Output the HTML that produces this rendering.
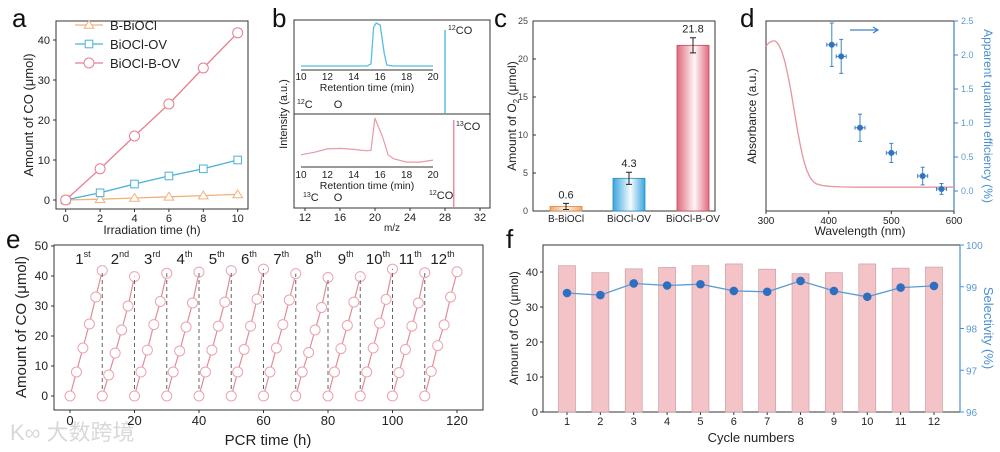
<!DOCTYPE html>
<html><head><meta charset="utf-8"><style>
html,body{margin:0;padding:0;background:#fff;}
svg{display:block;font-family:"Liberation Sans","Noto Sans CJK SC",sans-serif;}
</style></head><body>
<svg id="fig" width="1000" height="452" viewBox="0 0 1000 452">
<defs>
<linearGradient id="gO" x1="0" x2="1"><stop offset="0" stop-color="#eea868"/><stop offset="0.5" stop-color="#fff4e8"/><stop offset="1" stop-color="#eea868"/></linearGradient>
<linearGradient id="gB" x1="0" x2="1"><stop offset="0" stop-color="#3aa6dd"/><stop offset="0.55" stop-color="#f4fbff"/><stop offset="1" stop-color="#3aa6dd"/></linearGradient>
<linearGradient id="gR" x1="0" x2="1"><stop offset="0" stop-color="#e06a7c"/><stop offset="0.55" stop-color="#fff6f7"/><stop offset="1" stop-color="#e06a7c"/></linearGradient>
</defs>
<text x="10" y="440" font-size="22" fill="#d8d8d8">K∞ 大数跨境</text>
</svg>
<script>
const NS='http://www.w3.org/2000/svg';
const svg=document.getElementById('fig');
// ---- data ----
const aTimes=[0,2,4,6,8,10];
const aBBiOCl=[0,0.2,0.5,0.8,1.1,1.4];
const aBiOClOV=[0,1.8,4,6,7.8,10];
const aBiOClBOV=[0,7.8,16,24,33,41.8];
const bTopT=[10,15,15.3,15.5,15.7,16,16.3,16.5,17,20];
const bTopI=[0,0,0.05,0.9,1,0.95,0.3,0.02,0,0];
const bBotT=[10,11,12,13,14,15,15.3,15.6,16.2,16.6,17,18,19,20];
const bBotI=[0.25,0.3,0.37,0.38,0.36,0.33,0.34,1.0,0.6,0.25,0.17,0.1,0.1,0.14];
const cCats=['B-BiOCl','BiOCl-OV','BiOCl-B-OV'];
const cVals=[0.6,4.3,21.8];
const cErrs=[0.4,0.8,1.0];
const dWl=[300,305,310,315,320,325,330,335,340,345,350,355,360,365,370,375,380,390,400,420,450,500,600];
const dAbs=[0.97,0.99,1.0,1.0,0.98,0.94,0.88,0.8,0.7,0.59,0.48,0.38,0.3,0.24,0.2,0.175,0.16,0.15,0.145,0.142,0.14,0.14,0.14];
const dAqeWl=[405,420,450,500,550,580];
const dAqe=[2.15,1.98,0.93,0.56,0.22,0.03];
const dAqeErr=[0.32,0.25,0.2,0.14,0.13,0.08];
const eCycles=[[0,8,16,24,33,41.8],[0,7,14.3,22,30,39.8],[0,8,15.3,23.8,31.5,40.9],[0,8,15,23,31,41.3],[0,8,15.3,23.3,31.3,41.8],[0,8,15.5,23.3,32.3,42.3],[0,8,16,23.8,32,40.8],[0,8,14.5,22,29.5,39.5],[0,8,15.8,23.5,31.3,39.8],[0,8,16,24.3,32.2,42.3],[0,7.8,15.5,23.3,31,41.1],[0,8.2,16.8,23.7,33,41.4]];
const eLabels=['1','2','3','4','5','6','7','8','9','10','11','12'];
const eSup=['st','nd','rd','th','th','th','th','th','th','th','th','th'];
const fCycles=[1,2,3,4,5,6,7,8,9,10,11,12];
const fCO=[41.8,39.8,40.9,41.3,41.8,42.3,40.8,39.5,39.8,42.3,41.1,41.4];
const fSel=[98.85,98.8,99.08,99.03,99.06,98.9,98.88,99.14,98.9,98.76,98.98,99.02];

function el(tag,a,name){const e=document.createElementNS(NS,tag);for(const k in a)e.setAttribute(k,a[k]);


svg.appendChild(e);return e;}
function tx(x,y,s,name,o){o=o||{};const e=el('text',Object.assign({x:x,y:y,'font-size':o.fs||11,fill:o.fill||'#222','text-anchor':o.anchor||'middle'},o.tr?{transform:o.tr}:{}),name);e.innerHTML=s;return e;}
function lin(d0,d1,p0,p1){return v=>p0+(v-d0)*(p1-p0)/(d1-d0);}
function poly(xs,ys,X,Y,name,st){const p=xs.map((v,i)=>X(v).toFixed(1)+','+Y(ys[i]).toFixed(1)).join(' ');return el('polyline',Object.assign({points:p,fill:'none'},st),name);}
function box(x0,y0,x1,y1,name){el('rect',{x:x0,y:y0,width:x1-x0,height:y1-y0,fill:'none',stroke:'#333','stroke-width':1},name);}
function letter(x,y,s){tx(x,y,s,'panel-label-'+s,{fs:26,anchor:'start',fill:'#111'});}

// ---- panel a ----
{const X=lin(0,10,65.7,237.7),Y=lin(0,40,200,40);
box(56,21,248,209,'panel-a-frame');letter(12,27,'a');
for(let v=0;v<=10;v+=2){el('line',{x1:X(v),x2:X(v),y1:209,y2:212,stroke:'#333'},'a-x-tick');tx(X(v),222,v,'a-x-tick-label');}
for(let v=0;v<=40;v+=10){el('line',{x1:53,x2:56,y1:Y(v),y2:Y(v),stroke:'#333'},'a-y-tick');tx(50,Y(v)+4,v,'a-y-tick-label',{anchor:'end'});}
tx(152,234,'Irradiation time (h)','a-x-axis-title',{fs:12});
tx(33,115,'Amount of CO (μmol)','a-y-axis-title',{fs:13,tr:'rotate(-90 33 115)'});
const ser=[[aBBiOCl,'#f0b27a','tri','B-BiOCl'],[aBiOClOV,'#4ab0d9','sq','BiOCl-OV'],[aBiOClBOV,'#e57f8f','circ','BiOCl-B-OV']];
ser.forEach((s,k)=>{poly(aTimes,s[0],X,Y,'a-line-'+s[3],{stroke:s[1],'stroke-width':1.3});
 const mk=(cx,cy,nm)=>{if(s[2]=='circ')el('circle',{cx:cx,cy:cy,r:5,fill:'#fff',stroke:s[1],'stroke-width':1},nm);
 else if(s[2]=='sq')el('rect',{x:cx-3.8,y:cy-3.8,width:7.6,height:7.6,fill:'#fff',stroke:s[1],'stroke-width':1},nm);
 else el('polygon',{points:`${cx},${cy-4.5} ${cx-4.8},${cy+3.3} ${cx+4.8},${cy+3.3}`,fill:'#fff',stroke:s[1],'stroke-width':1},nm);};
 s[0].forEach((v,i)=>mk(X(aTimes[i]),Y(v),'a-point-'+s[3]));
 const ly=25+k*19;el('line',{x1:75,x2:103,y1:ly,y2:ly,stroke:s[1],'stroke-width':1.3},'a-legend-line');mk(89,ly,'a-legend-marker');
 tx(110,ly+5,s[3],'a-legend-entry',{fs:13,anchor:'start'});});}

// ---- panel b ----
{const X=lin(12,32,305,480);
box(294,20,490,208,'panel-b-frame');el('line',{x1:294,x2:490,y1:114,y2:114,stroke:'#333'},'b-divider');letter(272,27,'b');
for(let v=12;v<=32;v+=4){el('line',{x1:X(v),x2:X(v),y1:208,y2:211,stroke:'#333'},'b-x-tick');tx(X(v),221,v,'b-x-tick-label');}
tx(392,231,'m/z','b-x-axis-title',{fs:10});
tx(287,114,'Intensity (a.u.)','b-y-axis-title',{fs:11,tr:'rotate(-90 287 114)'});
const Xi=lin(10,20,301,433);
poly(bTopT,bTopI,Xi,lin(0,1,66,23),'b-top-chromatogram',{stroke:'#5bbce0','stroke-width':1.3});
el('line',{x1:301,x2:433,y1:70,y2:70,stroke:'#333'},'b-top-inset-axis');
for(let v=10;v<=20;v+=2){tx(Xi(v),80,v,'b-top-inset-tick-label',{fs:10});}
tx(367,91,'Retention time (min)','b-top-inset-title',{fs:10.5});
poly(bBotT,bBotI,Xi,lin(0,1,167,118),'b-bottom-chromatogram',{stroke:'#e89aa5','stroke-width':1.2});
el('line',{x1:301,x2:433,y1:167,y2:167,stroke:'#333'},'b-bottom-inset-axis');
for(let v=10;v<=20;v+=2){tx(Xi(v),178,v,'b-bottom-inset-tick-label',{fs:10});}
tx(367,189,'Retention time (min)','b-bottom-inset-title',{fs:10.5});
el('line',{x1:X(28),x2:X(28),y1:30,y2:114,stroke:'#4ab0d9','stroke-width':1.3},'b-12co-peak');
el('line',{x1:X(29),x2:X(29),y1:120,y2:208,stroke:'#e57f8f','stroke-width':1.3},'b-13co-peak');
tx(448,34,'<tspan font-size="7" dy="-4">12</tspan><tspan dy="4">CO</tspan>','b-12co-label',{fs:11,anchor:'start'});
tx(456,130,'<tspan font-size="7" dy="-4">13</tspan><tspan dy="4">CO</tspan>','b-13co-label',{fs:11,anchor:'start'});
tx(429,199,'<tspan font-size="7" dy="-4">12</tspan><tspan dy="4">CO</tspan>','b-12co-bottom-label',{fs:11,anchor:'start'});
tx(297,108,'<tspan font-size="7" dy="-4">12</tspan><tspan dy="4">C</tspan>','b-12c-label',{fs:11,anchor:'start'});
tx(338,108,'O','b-o-label-top',{fs:11});
tx(303,201,'<tspan font-size="7" dy="-4">13</tspan><tspan dy="4">C</tspan>','b-13c-label',{fs:11,anchor:'start'});
tx(338,201,'O','b-o-label-bottom',{fs:11});}

// ---- panel c ----
{const Y=lin(0,25,211,21);const cx=[566,629,693];const grads=['url(#gO)','url(#gB)','url(#gR)'];const bst=['#d98a4a','#2a8cc0','#c04a5c'];
box(533,21,715,211,'panel-c-frame');letter(494,27,'c');
for(let v=0;v<=25;v+=5){el('line',{x1:533,x2:536,y1:Y(v),y2:Y(v),stroke:'#333'},'c-y-tick');tx(528,Y(v)+3,v,'c-y-tick-label',{fs:9,anchor:'end',fill:'#444'});}
tx(516,116,'Amount of O<tspan font-size="8" dy="3">2</tspan><tspan dy="-3"> (μmol)</tspan>','c-y-axis-title',{fs:12,tr:'rotate(-90 516 116)'});
cVals.forEach((v,i)=>{el('rect',{x:cx[i]-16,y:Y(v),width:32,height:211-Y(v),fill:grads[i],stroke:bst[i],'stroke-width':0.8},'c-bar-'+cCats[i]);
 const t=Y(v+cErrs[i]),b=Y(v-cErrs[i]);el('path',{d:`M${cx[i]},${t}V${b}M${cx[i]-3},${t}H${cx[i]+3}M${cx[i]-3},${b}H${cx[i]+3}`,stroke:'#222',fill:'none'},'c-error-bar');
 tx(cx[i],t-5,v,'c-value-label',{fs:11});tx(cx[i],222,cCats[i],'c-x-tick-label',{fs:10});});}

// ---- panel d ----
{const X=lin(300,600,766,954),Ya=lin(0,1,211,41),Yq=lin(0,2.5,191,21);const blue='#3d85c6';
box(766,21,954,211,'panel-d-frame');el('line',{x1:954,x2:954,y1:21,y2:211,stroke:blue,'stroke-width':1.2},'d-right-axis');letter(740,27,'d');
for(let v=300;v<=600;v+=100){el('line',{x1:X(v),x2:X(v),y1:211,y2:214,stroke:'#333'},'d-x-tick');tx(X(v),224,v,'d-x-tick-label',{fs:10});}
for(let k=0;k<=5;k++){const v=k*0.5;el('line',{x1:954,x2:958,y1:Yq(v),y2:Yq(v),stroke:blue},'d-right-tick');tx(961,Yq(v)+3,v.toFixed(1),'d-right-tick-label',{fs:9,anchor:'start',fill:'#5a9bd5'});}
tx(860,235,'Wavelength (nm)','d-x-axis-title',{fs:12});
tx(756,116,'Absorbance (a.u.)','d-y-axis-title',{fs:12,tr:'rotate(-90 756 116)'});
tx(984,116,'Apparent quantum efficiency (%)','d-right-axis-title',{fs:12,fill:'#4a90d0',tr:'rotate(90 984 116)'});
poly(dWl,dAbs,X,Ya,'d-absorbance-curve',{stroke:'#e8939e','stroke-width':1.3});
dAqeWl.forEach((w,i)=>{const x=X(w),y=Yq(dAqe[i]),t=Yq(dAqe[i]+dAqeErr[i]),b=Yq(dAqe[i]-dAqeErr[i]),l=X(w-8),r=X(w+8);
 el('path',{d:`M${x},${t}V${b}M${x-2},${t}H${x+2}M${x-2},${b}H${x+2}M${l},${y}H${r}M${l},${y-2}V${y+2}M${r},${y-2}V${y+2}`,stroke:blue,fill:'none','stroke-width':1},'d-aqe-error-bar');
 el('circle',{cx:x,cy:y,r:3,fill:'#2f74c0'},'d-aqe-point');});
el('path',{d:'M850,30H878M873,27L878,30L873,33',stroke:blue,fill:'none','stroke-width':1.2},'d-axis-arrow');}

// ---- panel e ----
{const X=lin(0,120,70,457),Y=lin(0,50,396,246);const col='#e28b98';
box(54,245,483,410,'panel-e-frame');letter(6,248,'e');
for(let v=0;v<=120;v+=20){el('line',{x1:X(v),x2:X(v),y1:410,y2:413,stroke:'#333'},'e-x-tick');tx(X(v),425,v,'e-x-tick-label',{fs:13});}
for(let v=0;v<=50;v+=10){el('line',{x1:51,x2:54,y1:Y(v),y2:Y(v),stroke:'#333'},'e-y-tick');tx(48,Y(v)+4,v,'e-y-tick-label',{fs:12,anchor:'end'});}
tx(268,445,'PCR time (h)','e-x-axis-title',{fs:15});
tx(26,327,'Amount of CO (μmol)','e-y-axis-title',{fs:15,tr:'rotate(-90 26 327)'});
eCycles.forEach((cy,c)=>{const ts=aTimes.map(t=>t+c*10);
 if(c>0)el('line',{x1:X(c*10),x2:X(c*10),y1:Y(0),y2:Y(eCycles[c-1][5]),stroke:'#666','stroke-dasharray':'4,3','stroke-width':1},'e-cycle-divider');
 poly(ts,cy,X,Y,'e-cycle-line',{stroke:col,'stroke-width':1.2});
 cy.forEach((v,i)=>el('circle',{cx:X(ts[i]),cy:Y(v),r:5,fill:'#fff',stroke:'#eca3ae','stroke-width':1},'e-point'));
 tx(X(c*10+(c==0?4:5.5)),264,eLabels[c]+'<tspan font-size="9" dy="-7">'+eSup[c]+'</tspan>','e-cycle-label',{fs:15});});}

// ---- panel f ----
{const X=lin(1,12,567,934),Y=lin(0,40,412,272),Ys=lin(96,100,412,245);const blue='#4a90d0';
box(543,245,960,412,'panel-f-frame');el('line',{x1:960,x2:960,y1:245,y2:412,stroke:blue,'stroke-width':1.2},'f-right-axis');letter(506,248,'f');
fCycles.forEach(c=>{el('line',{x1:X(c),x2:X(c),y1:412,y2:415,stroke:'#333'},'f-x-tick');tx(X(c),425,c,'f-x-tick-label',{fs:11});});
for(let v=0;v<=40;v+=10){el('line',{x1:540,x2:543,y1:Y(v),y2:Y(v),stroke:'#333'},'f-y-tick');tx(538,Y(v)+4,v,'f-y-tick-label',{fs:11,anchor:'end'});}
for(let v=96;v<=100;v++){el('line',{x1:960,x2:964,y1:Ys(v),y2:Ys(v),stroke:blue},'f-right-tick');tx(966,Ys(v)+4,v,'f-right-tick-label',{fs:10,anchor:'start',fill:'#5a9bd5'});}
tx(751,442,'Cycle numbers','f-x-axis-title',{fs:13});
tx(518,328,'Amount of CO (μmol)','f-y-axis-title',{fs:12,tr:'rotate(-90 518 328)'});
tx(984,328,'Selectivity (%)','f-right-axis-title',{fs:13,fill:blue,tr:'rotate(90 984 328)'});
fCO.forEach((v,i)=>el('rect',{x:X(fCycles[i])-8.5,y:Y(v),width:17,height:412-Y(v),fill:'#f3c3c8',stroke:'#c9a0a5','stroke-width':0.7},'f-bar-cycle-'+fCycles[i]));
poly(fCycles,fSel,X,Ys,'f-selectivity-line',{stroke:'#5a9bd5','stroke-width':1.3});
fSel.forEach((v,i)=>el('circle',{cx:X(fCycles[i]),cy:Ys(v),r:4.3,fill:'#2f6fc0'},'f-selectivity-point'));}
</script>
</body></html>
